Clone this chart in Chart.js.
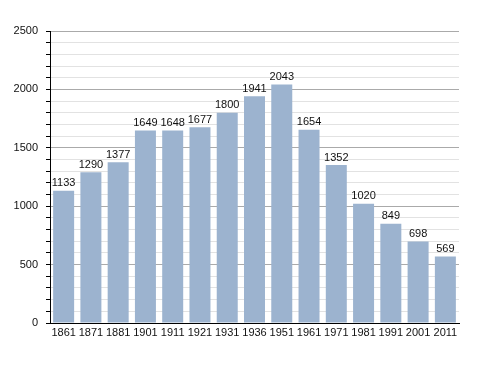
<!DOCTYPE html>
<html>
<head>
<meta charset="utf-8">
<script src="https://cdn.jsdelivr.net/npm/chart.js@4"></script>
<style>
  html, body { margin: 0; padding: 0; background: #fff; }
  #wrap { width: 488px; height: 373px; }
</style>
</head>
<body>
<div id="wrap"><canvas id="popChart" width="488" height="373"></canvas></div>
<script>
// census years and population
const years = ['1861', '1871', '1881', '1901', '1911', '1921', '1931', '1936', '1951', '1961', '1971', '1981', '1991', '2001', '2011'];
const population = [1133, 1290, 1377, 1649, 1648, 1677, 1800, 1941, 2043, 1654, 1352, 1020, 849, 698, 569];
const yTicks = [0, 500, 1000, 1500, 2000, 2500];

const FONT = 'Liberation Sans, Arial, sans-serif';

// value labels above each bar
const valueLabels = {
    id: 'valueLabels',
    afterDatasetsDraw(chart) {
        const ctx = chart.ctx;
        const meta = chart.getDatasetMeta(0);
        ctx.save();
        ctx.font = '11px ' + FONT;
        ctx.fillStyle = '#111';
        ctx.textAlign = 'center';
        ctx.textBaseline = 'bottom';
        meta.data.forEach((bar, i) => {
            ctx.fillText(String(population[i]), bar.x, bar.y - 2);
        });
        ctx.restore();
    }
};

new Chart(document.getElementById('popChart').getContext('2d'), {
    type: 'bar',
    data: {
        labels: years,
        datasets: [{
            data: population,
            backgroundColor: '#9cb3cf',
            borderWidth: 0,
            categoryPercentage: 1,
            barPercentage: 0.77
        }]
    },
    options: {
        responsive: false,
        animation: false,
        layout: { padding: { left: 0, top: 31, right: 29, bottom: 0 } },
        plugins: { legend: { display: false }, tooltip: { enabled: false } },
        scales: {
            x: {
                grid: { display: false, drawTicks: false },
                border: { color: '#000', width: 1 },
                ticks: { color: '#111', font: { family: FONT, size: 11 }, padding: 3, maxRotation: 0, autoSkip: false },
                afterFit: (scale) => { scale.height = 50; }
            },
            y: {
                min: 0,
                max: yTicks[yTicks.length - 1],
                border: { color: '#000', width: 1 },
                grid: {
                    color: (c) => (c.tick && c.tick.value % 500 === 0) ? '#aaaaaa' : '#e2e2e2',
                    tickColor: '#000',
                    tickLength: 4
                },
                ticks: {
                    stepSize: 100,
                    autoSkip: false,
                    color: '#111',
                    font: { family: FONT, size: 11 },
                    padding: 8,
                    callback: (v) => yTicks.includes(v) ? String(v) : ''
                },
                afterFit: (scale) => { scale.width = 50; }
            }
        }
    },
    plugins: [valueLabels]
});
</script>
</body>
</html>
